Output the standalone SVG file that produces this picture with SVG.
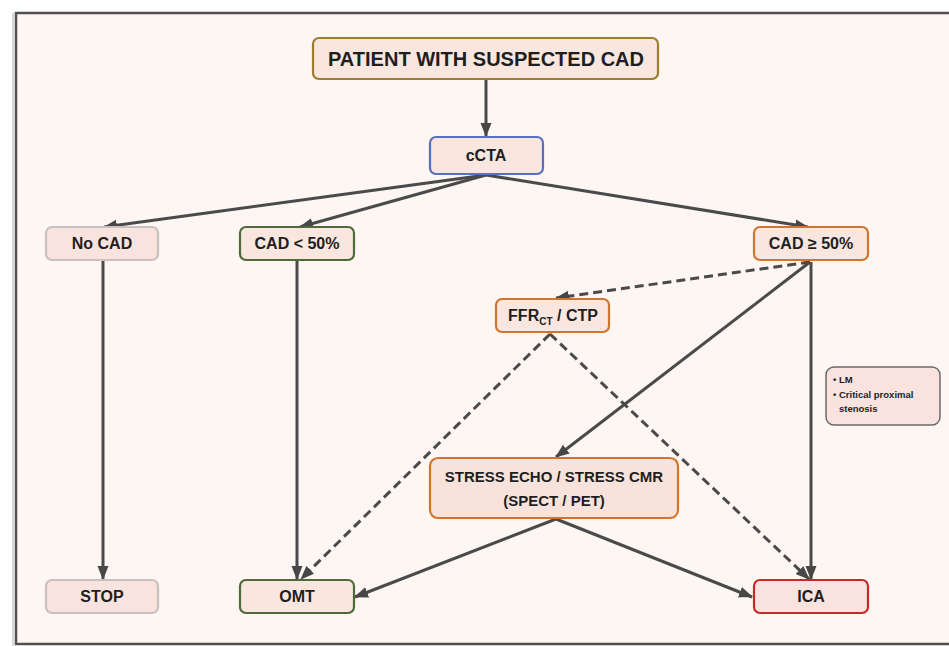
<svg xmlns="http://www.w3.org/2000/svg" width="949" height="646" viewBox="0 0 949 646">
<defs>
<marker id="ah" markerUnits="userSpaceOnUse" markerWidth="14" markerHeight="12" viewBox="0 0 14 12" refX="13" refY="6" orient="auto">
<path d="M0,0.5 L14,6 L0,11.5 Z" fill="#474747"/>
</marker>
<style>
.box{stroke-width:2.2}
.t{font-family:"Liberation Sans",Arial,sans-serif;font-weight:bold;fill:#1e1e1e;text-anchor:middle}
.c{fill:none;stroke:#4a4a4a;stroke-width:3}
.d{stroke-dasharray:9 5}
</style>
</defs>
<rect x="0" y="0" width="949" height="646" fill="#ffffff"/>
<rect x="16" y="13" width="945" height="631" fill="#fdf6f2" stroke="#505050" stroke-width="2.5"/>
<line x1="13" y1="13" x2="13" y2="646" stroke="#b0b0b0" stroke-width="1"/>

<g id="connectors">
<line class="c" x1="486" y1="80" x2="486" y2="136" marker-end="url(#ah)"/>
<line class="c" x1="486" y1="175" x2="104" y2="227" marker-end="url(#ah)"/>
<line class="c" x1="486" y1="175" x2="300" y2="227" marker-end="url(#ah)"/>
<line class="c" x1="486" y1="175" x2="808" y2="227" marker-end="url(#ah)"/>
<line class="c" x1="103" y1="261" x2="103" y2="579" marker-end="url(#ah)"/>
<line class="c" x1="297" y1="261" x2="297" y2="579" marker-end="url(#ah)"/>
<line class="c d" x1="810" y1="262" x2="556" y2="298" marker-end="url(#ah)"/>
<line class="c" x1="810" y1="262" x2="556" y2="457" marker-end="url(#ah)"/>
<line class="c" x1="811" y1="262" x2="811" y2="579" marker-end="url(#ah)"/>
<line class="c d" x1="550" y1="334" x2="301" y2="579" marker-end="url(#ah)"/>
<line class="c d" x1="550" y1="334" x2="809" y2="579" marker-end="url(#ah)"/>
<line class="c" x1="556" y1="519" x2="355" y2="597" marker-end="url(#ah)"/>
<line class="c" x1="556" y1="519" x2="752" y2="597" marker-end="url(#ah)"/>
</g>

<g id="patient">
<rect class="box" x="313" y="38" width="345" height="41" rx="6" fill="#f8e6df" stroke="#9c7e2e"/>
<text class="t" x="486" y="66" font-size="20" textLength="316" lengthAdjust="spacingAndGlyphs">PATIENT WITH SUSPECTED CAD</text>
</g>
<g id="ccta">
<rect class="box" x="430" y="137" width="113" height="37" rx="6" fill="#f8e6df" stroke="#5a6fbe"/>
<text class="t" x="486" y="161" font-size="16">cCTA</text>
</g>
<g id="nocad">
<rect class="box" x="46" y="227" width="112" height="33" rx="6" fill="#f8e3df" stroke="#c9c1c0"/>
<text class="t" x="102" y="249" font-size="16">No CAD</text>
</g>
<g id="cad-lt50">
<rect class="box" x="240" y="227" width="114" height="33" rx="6" fill="#f8e6df" stroke="#4f6a3a"/>
<text class="t" x="297" y="249" font-size="16">CAD &lt; 50%</text>
</g>
<g id="cad-ge50">
<rect class="box" x="754" y="227" width="114" height="33" rx="6" fill="#f8e6df" stroke="#d0742e"/>
<text class="t" x="811" y="249" font-size="16">CAD ≥ 50%</text>
</g>
<g id="ffrct">
<rect class="box" x="496" y="299" width="113" height="33" rx="6" fill="#f8e6df" stroke="#d0742e"/>
<text class="t" x="553" y="321" font-size="16">FFR<tspan font-size="10" dy="4">CT</tspan><tspan dy="-4"> / CTP</tspan></text>
</g>
<g id="lm-note">
<rect x="826" y="367" width="114" height="58" rx="8" fill="#f8e3df" stroke="#6a6a6a" stroke-width="1.5"/>
<text class="t" font-size="9.5" style="text-anchor:start"><tspan x="833" y="383">• LM</tspan><tspan x="833" y="398">• Critical proximal</tspan><tspan x="839" y="412">stenosis</tspan></text>
</g>
<g id="stress">
<rect class="box" x="430" y="458" width="248" height="60" rx="8" fill="#f8e3dc" stroke="#d0742e"/>
<text class="t" x="554" y="482" font-size="15">STRESS ECHO / STRESS CMR</text>
<text class="t" x="554" y="506" font-size="15">(SPECT / PET)</text>
</g>
<g id="stop">
<rect class="box" x="46" y="580" width="112" height="33" rx="6" fill="#f8e3df" stroke="#c9c1c0"/>
<text class="t" x="102" y="602" font-size="16">STOP</text>
</g>
<g id="omt">
<rect class="box" x="240" y="580" width="114" height="33" rx="6" fill="#f8e6df" stroke="#4f6a3a"/>
<text class="t" x="297" y="602" font-size="16">OMT</text>
</g>
<g id="ica">
<rect class="box" x="754" y="580" width="114" height="33" rx="6" fill="#f8e3df" stroke="#c8282a"/>
<text class="t" x="811" y="602" font-size="16">ICA</text>
</g>
</svg>
